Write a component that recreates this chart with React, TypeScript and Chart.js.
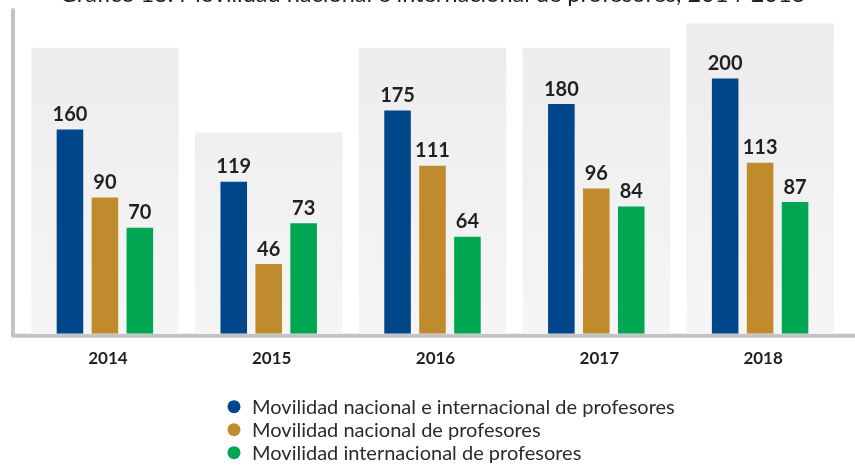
import React, { useEffect, useRef } from "react";
import { Chart, registerables } from "chart.js";

Chart.register(...registerables);

const titleText = "Gráfico 18. Movilidad nacional e internacional de profesores, 2014-2018";
const years = ["2014", "2015", "2016", "2017", "2018"];
const totalMobility = [160, 119, 175, 180, 200];
const nationalMobility = [90, 46, 111, 96, 113];
const internationalMobility = [70, 73, 64, 84, 87];
const panelHeights = [189, 133, 189, 189, 205];
const seriesLabels = [
  "Movilidad nacional e internacional de profesores",
  "Movilidad nacional de profesores",
  "Movilidad internacional de profesores",
];
const seriesColors = ["#00468a", "#c08b2c", "#00a651"];

const TEXT = "#231f20";

const framePlugin = {
  id: "frame",
  beforeDatasetsDraw(chart: any) {
    const { ctx, chartArea } = chart;
    ctx.save();
    ctx.strokeStyle = "#c3c4c6";
    ctx.lineWidth = 4;
    ctx.lineCap = "round";
    ctx.lineJoin = "round";
    ctx.beginPath();
    ctx.moveTo(chartArea.left - 10, chartArea.top);
    ctx.lineTo(chartArea.left - 10, chartArea.bottom + 2);
    ctx.lineTo(chart.width + 5, chartArea.bottom + 2);
    ctx.stroke();
    ctx.restore();
  },
};

const valueLabelPlugin = {
  id: "valueLabels",
  afterDatasetsDraw(chart: any) {
    const { ctx } = chart;
    ctx.save();
    ctx.font = "bold 20px Lato";
    ctx.fillStyle = TEXT;
    ctx.textAlign = "center";
    ctx.textBaseline = "alphabetic";
    chart.data.datasets.forEach((ds: any, di: number) => {
      if (ds.isPanel) return;
      const meta = chart.getDatasetMeta(di);
      meta.data.forEach((el: any, i: number) => {
        ctx.fillText(String(ds.data[i]), el.x, el.y - 8.5);
      });
    });
    ctx.restore();
  },
};

const legendPlugin = {
  id: "customLegend",
  afterDraw(chart: any) {
    const { ctx } = chart;
    ctx.save();
    ctx.font = "20px Lato";
    ctx.textAlign = "left";
    ctx.textBaseline = "alphabetic";
    let row = 0;
    chart.data.datasets.forEach((ds: any) => {
      if (ds.isPanel) return;
      const cy = 436.7 + row * 23;
      ctx.fillStyle = ds.backgroundColor;
      ctx.beginPath();
      ctx.arc(234, cy, 6.5, 0, Math.PI * 2);
      ctx.fill();
      ctx.fillStyle = "#2b2b2b";
      ctx.fillText(ds.label, 252, cy + 7);
      row++;
    });
    ctx.restore();
  },
};

export default function App() {
  const ref = useRef<HTMLCanvasElement | null>(null);

  useEffect(() => {
    if (!ref.current) return;
    const panelFill = (c: any) => {
      const area = c.chart.chartArea;
      if (!area) return "#efefef";
      const g = c.chart.ctx.createLinearGradient(0, area.bottom, 0, area.top);
      g.addColorStop(0, "#f5f5f5");
      g.addColorStop(1, "#ececec");
      return g;
    };
    const chart = new Chart(ref.current, {
      type: "bar",
      data: {
        labels: years,
        datasets: [
          {
            label: "panel",
            isPanel: true,
            data: panelHeights,
            yAxisID: "y2",
            grouped: false,
            order: 5,
            backgroundColor: panelFill,
            categoryPercentage: 0.9,
            barPercentage: 1,
          } as any,
          {
            label: seriesLabels[0],
            data: totalMobility,
            yAxisID: "y",
            backgroundColor: seriesColors[0],
            categoryPercentage: 0.64,
            barPercentage: 0.76,
            order: 0,
          },
          {
            label: seriesLabels[1],
            data: nationalMobility,
            yAxisID: "y2",
            backgroundColor: seriesColors[1],
            categoryPercentage: 0.64,
            barPercentage: 0.76,
            order: 0,
          },
          {
            label: seriesLabels[2],
            data: internationalMobility,
            yAxisID: "y2",
            backgroundColor: seriesColors[2],
            categoryPercentage: 0.64,
            barPercentage: 0.76,
            order: 0,
          },
        ],
      },
      options: {
        animation: false,
        responsive: false,
        devicePixelRatio: 1,
        layout: { padding: { left: 23, right: 13, top: 0, bottom: 83.3 } },
        plugins: {
          legend: { display: false },
          tooltip: { enabled: false },
          title: {
            display: true,
            text: titleText,
            color: TEXT,
            font: { family: "Lato", size: 23.5, weight: "normal" },
            padding: { top: 10.3, bottom: 1.5 },
          },
        },
        scales: {
          x: {
            grid: { display: false, drawTicks: false },
            border: { display: false },
            ticks: {
              color: TEXT,
              font: { family: "Lato", size: 17, weight: "bold" },
              padding: 14.3,
              labelOffset: 3,
            },
          },
          y: { display: false, min: 0, max: 253.7 },
          y2: { display: false, min: 0, max: 213.9 },
        },
      },
      plugins: [framePlugin, valueLabelPlugin, legendPlugin],
    });
    return () => chart.destroy();
  }, []);

  return (
    <div style={{ position: "absolute", left: 0, top: -30, width: 855, height: 496 }}>
      <canvas ref={ref} width={855} height={496} style={{ display: "block", width: 855, height: 496 }} />
    </div>
  );
}
